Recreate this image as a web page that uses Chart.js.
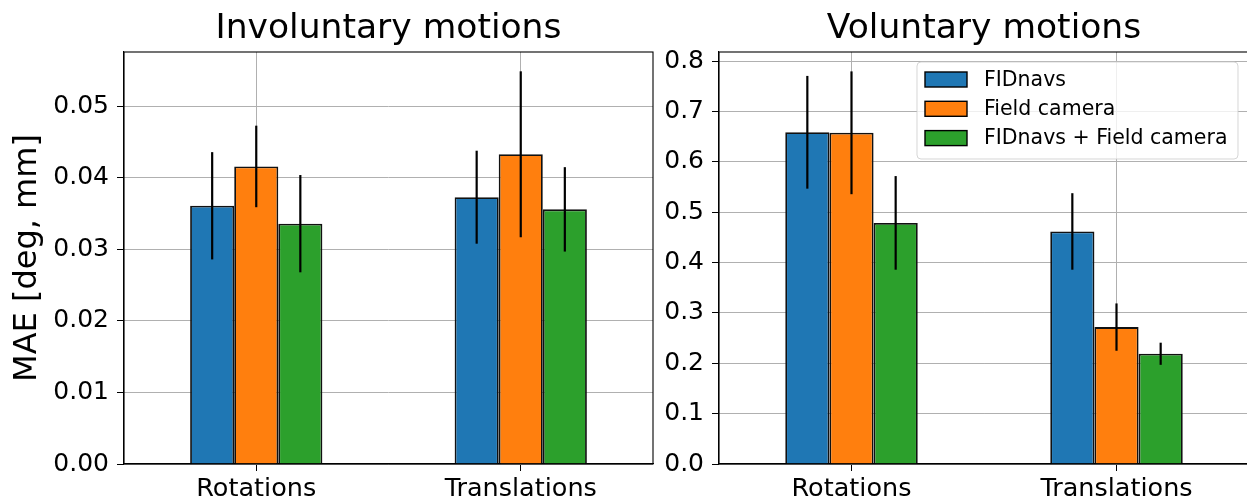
<!DOCTYPE html>
<html>
<head>
<meta charset="utf-8">
<script src="https://cdn.jsdelivr.net/npm/chart.js@4/dist/chart.umd.min.js"></script>
<style>
  html, body { margin: 0; padding: 0; background: #fff; overflow: hidden; width: 1247px; height: 500px; }
  canvas { position: absolute; top: 0; }
  #left { left: 0; }
  #right { left: 660px; }
</style>
</head>
<body>
<canvas id="left" width="660" height="500"></canvas>
<canvas id="right" width="600" height="500"></canvas>
<script>
// Categories and series
const categories = ['Rotations', 'Translations'];
const seriesNames = ['FIDnavs', 'Field camera', 'FIDnavs + Field camera'];
const seriesColors = ['#1f77b4', '#ff7f0e', '#2ca02c'];

// Involuntary motions: mean absolute error and spread
const involFID = [0.0361, 0.0373];
const involCam = [0.0416, 0.0433];
const involBoth = [0.0336, 0.0356];
const involFIDErr = [0.0075, 0.0065];
const involCamErr = [0.0057, 0.0116];
const involBothErr = [0.0068, 0.0059];

// Voluntary motions: mean absolute error and spread
const volFID = [0.659, 0.462];
const volCam = [0.658, 0.272];
const volBoth = [0.479, 0.219];
const volFIDErr = [0.112, 0.076];
const volCamErr = [0.122, 0.047];
const volBothErr = [0.093, 0.022];

// Axis ranges and tick steps
const involMax = 0.0576, involStep = 0.01, involDigits = 2;
const volMax = 0.8185, volStep = 0.1, volDigits = 1;

const FONT = "'DejaVu Sans', sans-serif";

// Error bars, frame, title and legend drawn on top of everything else
const overlayPlugin = {
  id: 'overlay',
  afterDraw(chart, args, opts) {
    const ctx = chart.ctx;
    const area = chart.chartArea;
    const yScale = chart.scales.y;

    // vertical error bars through the bar centres
    ctx.save();
    ctx.strokeStyle = '#000';
    ctx.lineWidth = 2.2;
    chart.data.datasets.forEach((ds, i) => {
      const meta = chart.getDatasetMeta(i);
      meta.data.forEach((bar, j) => {
        const v = ds.data[j], e = ds.errors[j];
        ctx.beginPath();
        ctx.moveTo(bar.x, yScale.getPixelForValue(v - e));
        ctx.lineTo(bar.x, yScale.getPixelForValue(v + e));
        ctx.stroke();
      });
    });
    ctx.restore();

    // axes frame
    ctx.save();
    ctx.strokeStyle = '#000';
    ctx.lineWidth = 1.1;
    ctx.strokeRect(area.left, area.top, area.right - area.left, area.bottom - area.top);
    ctx.restore();

    // subplot title
    ctx.save();
    ctx.fillStyle = '#000';
    ctx.font = '34.5px ' + FONT;
    ctx.textAlign = 'center';
    ctx.textBaseline = 'alphabetic';
    ctx.fillText(opts.title, (area.left + area.right) / 2, 38);
    ctx.restore();

    // legend box in the upper right corner
    if (opts.legend) {
      const boxRight = area.right - 11, boxTop = area.top + 10;
      const boxW = 321, boxH = 97;
      const x0 = boxRight - boxW;
      ctx.save();
      ctx.beginPath();
      ctx.roundRect(x0, boxTop, boxW, boxH, 4);
      ctx.fillStyle = 'rgba(255,255,255,0.8)';
      ctx.fill();
      ctx.strokeStyle = 'rgba(204,204,204,0.8)';
      ctx.lineWidth = 1;
      ctx.stroke();
      ctx.font = '20.5px ' + FONT;
      ctx.textAlign = 'left';
      ctx.textBaseline = 'middle';
      chart.data.datasets.forEach((ds, i) => {
        const cy = boxTop + 17.5 + i * 29.3;
        ctx.fillStyle = ds.backgroundColor;
        ctx.fillRect(x0 + 8, cy - 7.5, 42, 15);
        ctx.strokeStyle = '#000';
        ctx.lineWidth = 1.4;
        ctx.strokeRect(x0 + 8, cy - 7.5, 42, 15);
        ctx.fillStyle = '#000';
        ctx.fillText(ds.label, x0 + 67, cy + 1);
      });
      ctx.restore();
    }
  }
};

function makeChart(id, values, errors, maxY, step, digits, axisWidth, padRight, title, yTitle, legend) {
  const datasets = values.map((vals, i) => ({
    label: seriesNames[i],
    data: vals,
    errors: errors[i],
    backgroundColor: seriesColors[i],
    borderColor: '#111',
    borderWidth: 1.8,
    categoryPercentage: 0.5,
    barPercentage: 1.0
  }));
  return new Chart(document.getElementById(id), {
    type: 'bar',
    data: { labels: categories, datasets },
    plugins: [overlayPlugin],
    options: {
      responsive: false,
      animation: false,
      devicePixelRatio: 1,
      layout: { padding: { top: 52, right: padRight, bottom: 0, left: 0 } },
      plugins: {
        legend: { display: false },
        tooltip: { enabled: false },
        overlay: { title, legend }
      },
      scales: {
        x: {
          z: 1,
          offset: true,
          grid: { offset: false, color: '#b0b0b0', lineWidth: 1, tickLength: 7, tickColor: '#000', tickWidth: 1 },
          border: { display: true, color: '#000', width: 1.1 },
          ticks: { color: '#000', font: { family: FONT, size: 25.5 }, padding: 3, maxRotation: 0 },
          afterFit(scale) { scale.height = 36; }
        },
        y: {
          z: 1,
          min: 0,
          max: maxY,
          grid: { color: '#b0b0b0', lineWidth: 1, tickLength: 7, tickColor: '#000', tickWidth: 1 },
          border: { display: true, color: '#000', width: 1.1 },
          ticks: {
            stepSize: step,
            includeBounds: false,
            color: '#000',
            padding: 8,
            font: { family: FONT, size: 25 },
            callback: v => Number(v).toFixed(digits)
          },
          title: yTitle ? {
            display: true,
            text: yTitle,
            color: '#000',
            font: { family: FONT, size: 32, lineHeight: 1.2 },
            padding: { top: 8, bottom: 0 }
          } : { display: false },
          afterFit(scale) { scale.width = axisWidth; }
        }
      }
    }
  });
}

makeChart('left',
  [involFID, involCam, involBoth],
  [involFIDErr, involCamErr, involBothErr],
  involMax, involStep, involDigits, 124, 7,
  'Involuntary motions', 'MAE [deg, mm]', false);

makeChart('right',
  [volFID, volCam, volBoth],
  [volFIDErr, volCamErr, volBothErr],
  volMax, volStep, volDigits, 59, 11,
  'Voluntary motions', null, true);
</script>
</body>
</html>
